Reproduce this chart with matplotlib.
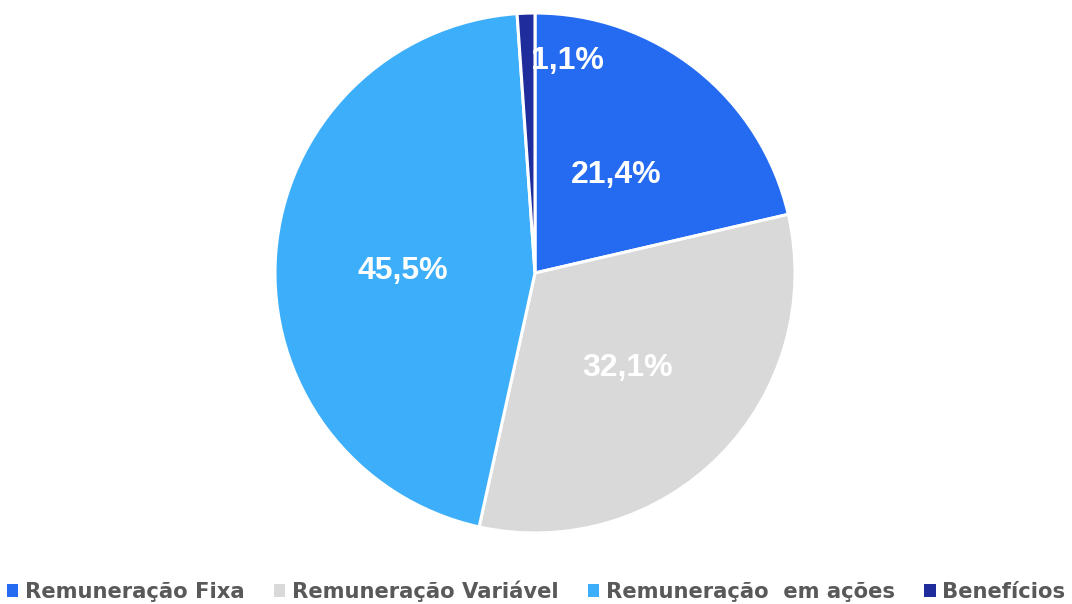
import matplotlib
matplotlib.use("Agg")
import matplotlib.pyplot as plt
from matplotlib.patches import Patch
import math

categories = ["Remuneração Fixa", "Remuneração Variável", "Remuneração  em ações", "Benefícios"]
values = [21.4, 32.1, 45.5, 1.1]
labels_txt = ["21,4%", "32,1%", "45,5%", "1,1%"]
colors = ["#256BF2", "#D9D9D9", "#3DAFFA", "#1F2D9C"]

W, H = 1072, 604
fig = plt.figure(figsize=(W / 100, H / 100), dpi=100)
cx, cy, r = 535, 273, 260
ax = fig.add_axes([(cx - r) / W, (H - cy - r) / H, 2 * r / W, 2 * r / H])

wedges, _ = ax.pie(values, colors=colors, startangle=90, counterclock=False,
                   radius=1, wedgeprops=dict(edgecolor="white", linewidth=2.2))
ax.set_xlim(-1, 1)
ax.set_ylim(-1, 1)
ax.set_aspect("equal")
ax.axis("off")

pos_override = {3: (0.125, 0.83), 2: (-0.51, 0.02)}
theta = 90.0
total = sum(values)
for i, (v, t) in enumerate(zip(values, labels_txt)):
    a0 = theta
    theta -= 360 * v / total
    mid = math.radians((a0 + theta) / 2)
    x, y = 0.5 * math.cos(mid), 0.5 * math.sin(mid)
    if i in pos_override:
        x, y = pos_override[i]
    ax.text(x, y, t, ha="center", va="center_baseline", color="white", fontsize=23,
            fontweight="bold", family="Liberation Sans")

handles = [Patch(facecolor=c, edgecolor="none") for c in colors]
leg = fig.legend(handles, categories, loc="center", bbox_to_anchor=(0.5, 1 - 591 / H),
                 ncol=4, frameon=False, handlelength=0.55, handleheight=0.55,
                 handletextpad=0.3, columnspacing=1.4,
                 prop=dict(family="DejaVu Sans", weight="bold", size=15.2))
for t in leg.get_texts():
    t.set_color("#595959")

fig.savefig("out.png", dpi=100)
